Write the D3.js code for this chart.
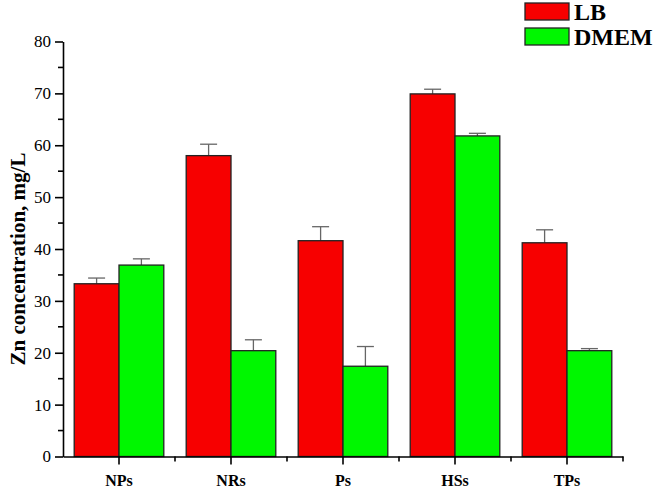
<!DOCTYPE html>
<html><head><meta charset="utf-8">
<script src="https://cdn.jsdelivr.net/npm/d3@7"></script>
<style>body{margin:0;background:#fff}svg{display:block}</style>
</head><body>
<script>
const categories = ["NPs","NRs","Ps","HSs","TPs"];
const seriesNames = ["LB","DMEM"];
const lbValues = [33.3, 58.0, 41.6, 69.9, 41.2];
const lbErrors = [1.1, 2.2, 2.7, 0.9, 2.5];
const dmemValues = [36.9, 20.4, 17.4, 61.8, 20.4];
const dmemErrors = [1.2, 2.1, 3.8, 0.5, 0.4];
const yTicks = [0,10,20,30,40,50,60,70,80];
const colors = ["#f70000","#00f700"];

const W=657,H=488;
const svg=d3.select("body").append("svg").attr("width",W).attr("height",H);
const x=d3.scaleBand().domain(categories).range([63,623]).paddingInner(0.2).paddingOuter(0.1);
const xs=d3.scaleBand().domain(seriesNames).range([0,x.bandwidth()]);
const y=d3.scaleLinear().domain([0,80]).range([456.5,41.5]);
const font="'Liberation Serif','Times New Roman',serif";

const series=[
 {name:"LB",vals:lbValues,errs:lbErrors},
 {name:"DMEM",vals:dmemValues,errs:dmemErrors}
];
series.forEach((s,si)=>{
  const g=svg.append("g");
  categories.forEach((c,i)=>{
    const bx=x(c)+xs(s.name), bw=xs.bandwidth();
    const cx=bx+bw/2;
    g.append("line").attr("x1",cx).attr("x2",cx).attr("y1",y(s.vals[i])).attr("y2",y(s.vals[i]+s.errs[i]))
      .attr("stroke","#666").attr("stroke-width",1.3);
    g.append("line").attr("x1",cx-8.5).attr("x2",cx+8.5).attr("y1",y(s.vals[i]+s.errs[i])).attr("y2",y(s.vals[i]+s.errs[i]))
      .attr("stroke","#666").attr("stroke-width",1.3);
    g.append("rect").attr("x",bx).attr("width",bw).attr("y",y(s.vals[i])).attr("height",y(0)-y(s.vals[i]))
      .attr("fill",colors[si]).attr("stroke","#222").attr("stroke-width",1.3);
  });
});

// y axis
const yAxis=svg.append("g").attr("transform","translate(63,0)")
 .call(d3.axisLeft(y).tickValues(yTicks).tickSize(8).tickPadding(4).tickSizeOuter(0));
yAxis.selectAll("text").attr("font-family",font).attr("font-size",17).attr("fill","#000");
yAxis.select(".domain").attr("stroke","#000").attr("stroke-width",1.6);
yAxis.selectAll(".tick line").attr("stroke","#000").attr("stroke-width",1.6);
const minorY=d3.range(5,80,10);
svg.append("g").attr("transform","translate(63,0)").selectAll("line").data(minorY).join("line")
 .attr("x1",-5).attr("x2",0).attr("y1",d=>y(d)).attr("y2",d=>y(d)).attr("stroke","#000").attr("stroke-width",1.6);

// x axis
const xAxis=svg.append("g").attr("transform",`translate(0,${y(0)})`)
 .call(d3.axisBottom(x).tickSize(8).tickPadding(10).tickSizeOuter(0));
xAxis.select(".domain").attr("stroke","#000").attr("stroke-width",1.6);
xAxis.selectAll(".tick line").attr("stroke","#000").attr("stroke-width",1.6);
xAxis.selectAll("text").attr("font-family",font).attr("font-size",16).attr("font-weight","bold").attr("fill","#000");
const step=x.step();
const minorX=categories.map(c=>x(c)+x.bandwidth()/2+step/2);
svg.append("g").selectAll("line").data(minorX).join("line")
 .attr("x1",d=>d).attr("x2",d=>d).attr("y1",y(0)).attr("y2",y(0)+5).attr("stroke","#000").attr("stroke-width",1.6);

// y label
svg.append("text").attr("transform",`translate(25,259) rotate(-90)`)
 .attr("text-anchor","middle").attr("font-family",font).attr("font-size",21).attr("font-weight","bold")
 .text("Zn concentration, mg/L");

// legend
const leg=svg.append("g");
seriesNames.forEach((n,i)=>{
  leg.append("rect").attr("x",525).attr("y",3+i*25).attr("width",44).attr("height",17)
    .attr("fill",colors[i]).attr("stroke","#222").attr("stroke-width",1.3);
  leg.append("text").attr("x",574).attr("y",20+i*25).attr("font-family",font).attr("font-size",24)
    .attr("font-weight","bold").text(n);
});
</script>
</body></html>
